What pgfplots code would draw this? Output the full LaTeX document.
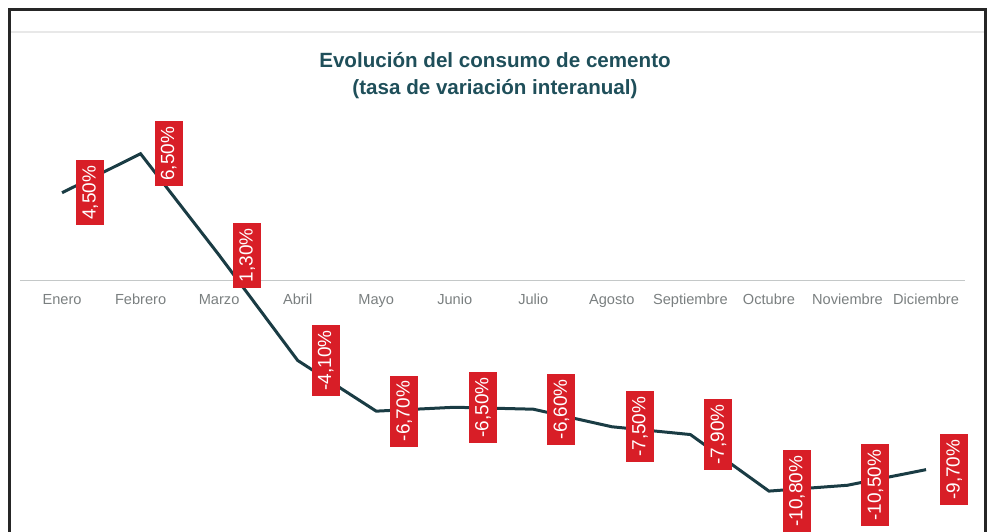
\documentclass[border=0pt]{standalone}
\usepackage{pgfplots}
\pgfplotsset{compat=1.18}
\usepackage{fontspec}
\setmainfont{Liberation Sans}
\definecolor{titlecol}{HTML}{1F4F5A}
\definecolor{linecol}{HTML}{1A3C44}
\definecolor{boxred}{HTML}{D81E27}
\definecolor{lblgray}{HTML}{7A7F80}
\definecolor{zerogray}{HTML}{C4C8C8}
\begin{document}
\begin{tikzpicture}[x=1pt,y=1pt]
\useasboundingbox (0,0) rectangle (988,531);
\clip (0,0) rectangle (988,531);
\draw[line width=2.6pt, color=black!85] (9.5,-10) -- (9.5,521.5) -- (985.5,521.5) -- (985.5,-10);
\draw[line width=1.5pt, color=gray!18] (11,499) -- (984,499);
\node[font=\bfseries\fontsize{20.6}{27}\selectfont, text=titlecol, align=center] at (495,455) {Evolución del consumo de cemento\\(tasa de variación interanual)};
\begin{axis}[
  at={(20pt,0pt)}, anchor=south west,
  scale only axis, width=945.3pt, height=426pt,
  xmin=-0.535, xmax=11.5, ymin=-12.846, ymax=9,
  axis x line=middle, axis y line=none,
  x axis line style={draw=zerogray, line width=1pt, -},
  hide obscured x ticks=false,
  xtick={0,1,2,3,4,5,6,7,8,9,10,11},
  xticklabels={Enero,Febrero,Marzo,Abril,Mayo,Junio,Julio,Agosto,Septiembre,Octubre,Noviembre,Diciembre},
  major tick length=0pt,
  xticklabel style={font=\fontsize{14.6}{16}\selectfont, text=lblgray, anchor=center, text height=10.5pt, text depth=3pt, yshift=-20pt},
  clip=false,
]
\addplot[color=linecol, line width=3pt, mark=none,
  nodes near coords={\pgfmathprintnumber[fixed,fixed zerofill,precision=2,use comma,assume math mode=true]{\pgfplotspointmeta}\%},
  point meta=y,
  nodes near coords align={},
  every node near coord/.style={xshift=12.5pt, rotate=90, anchor=north, fill=boxred, text=white,
    font=\fontsize{19}{21}\selectfont, inner xsep=5.5pt, inner ysep=5.5pt, text height=14pt, text depth=3pt},
] coordinates {
(0,4.5) (1,6.5) (2,1.3) (3,-4.1) (4,-6.7) (5,-6.5) (6,-6.6) (7,-7.5) (8,-7.9) (9,-10.8) (10,-10.5) (11,-9.7)
};
\end{axis}
\end{tikzpicture}
\end{document}
